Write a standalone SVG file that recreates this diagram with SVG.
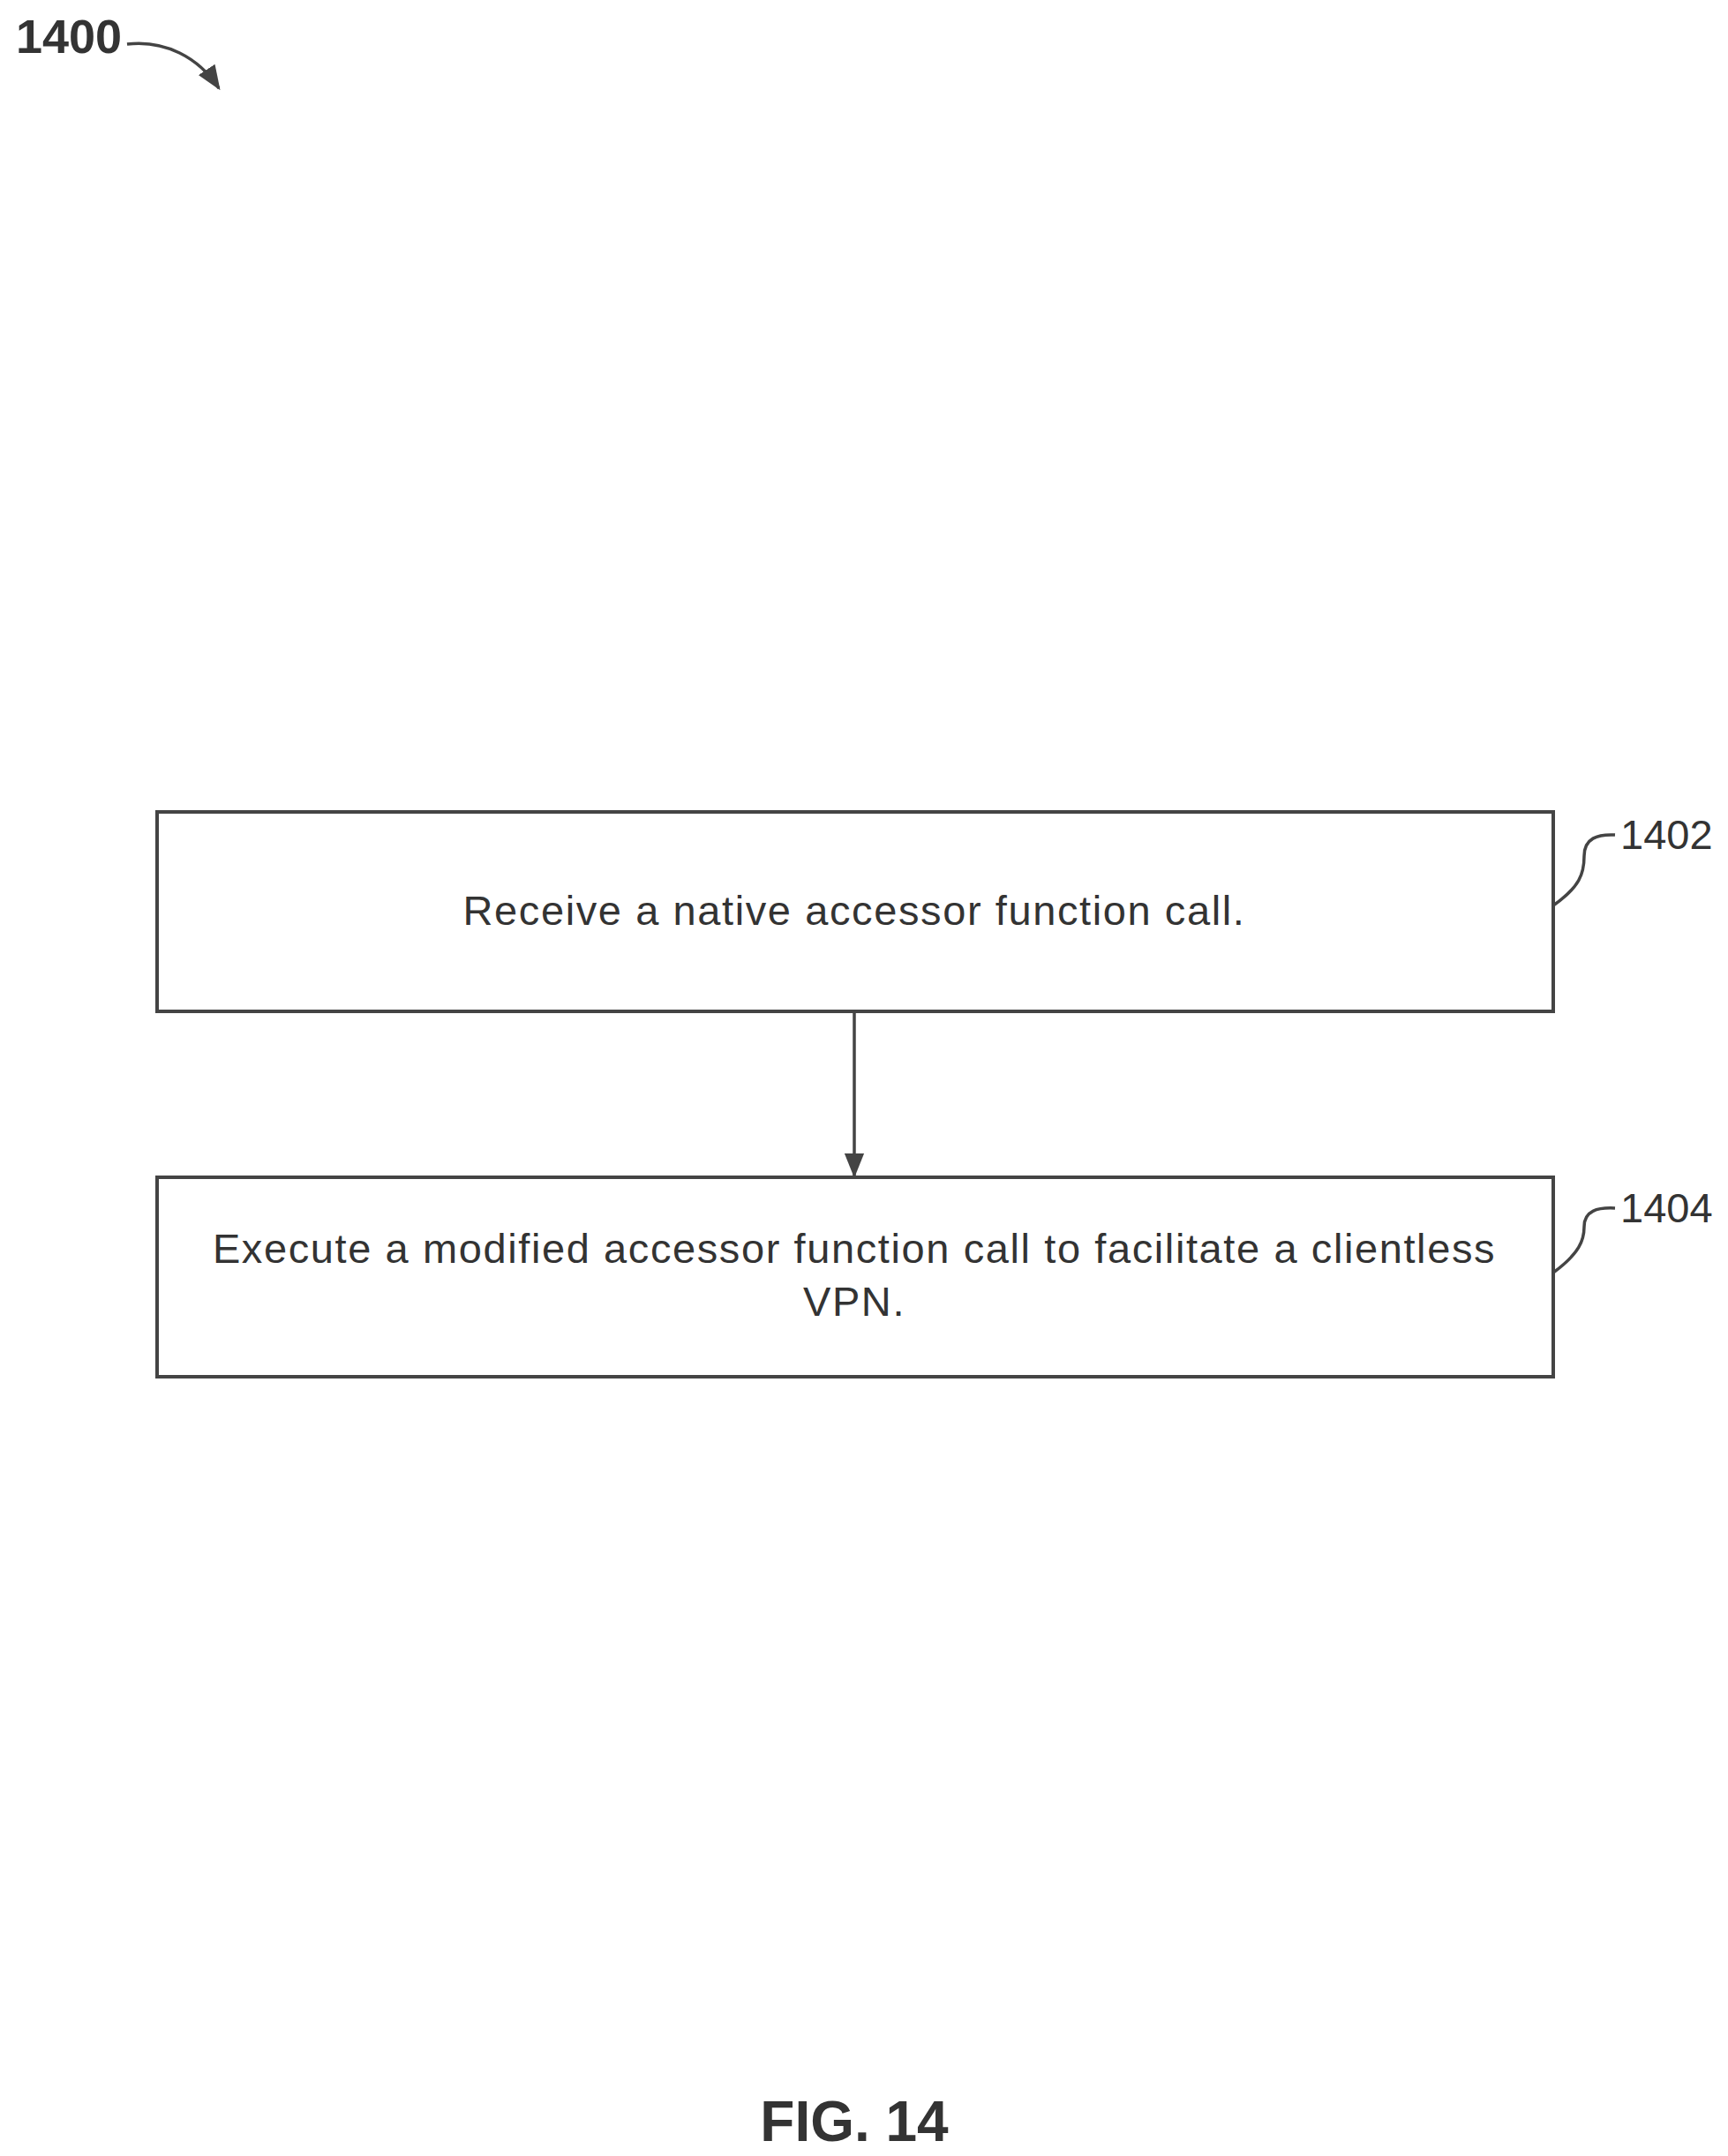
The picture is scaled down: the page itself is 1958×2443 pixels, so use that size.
<svg xmlns="http://www.w3.org/2000/svg" width="1958" height="2443" viewBox="0 0 1958 2443">
<style>
.box{fill:#fff;stroke:#444;stroke-width:4}
.t{font-family:"Liberation Sans",Arial,sans-serif;font-size:47px;letter-spacing:1.6px;fill:#333;text-anchor:middle}
.lbl{font-family:"Liberation Sans",Arial,sans-serif;font-size:47px;fill:#333}
.ln{fill:none;stroke:#444;stroke-width:3.5}
</style>
<defs>
<marker id="ah2" viewBox="0 0 10 10" refX="9" refY="5" markerWidth="28" markerHeight="28" orient="auto" markerUnits="userSpaceOnUse"><path d="M0,1 L10,5 L0,9 Z" fill="#444"/></marker>
</defs>
<rect width="1958" height="2443" fill="#fff"/>
<text x="18" y="60" font-family="Liberation Sans,Arial,sans-serif" font-size="54" font-weight="bold" fill="#333">1400</text>
<path class="ln" d="M144,50 C187,45 225,65 248,100" marker-end="url(#ah2)"/>
<g id="n1402">
<rect class="box" x="178" y="920" width="1582" height="226"/>
<text class="t" x="968" y="1048">Receive a native accessor function call.</text>
<path class="ln" d="M1760,1026 C1790,1005 1795,990 1795,970 C1795,950 1810,945 1830,946"/>
<text class="lbl" x="1836" y="962">1402</text>
</g>
<g id="n1404">
<rect class="box" x="178" y="1334" width="1582" height="226"/>
<text class="t" x="968" y="1431">Execute a modified accessor function call to facilitate a clientless</text>
<text class="t" x="968" y="1491">VPN.</text>
<path class="ln" d="M1760,1442 C1790,1420 1795,1405 1795,1390 C1795,1372 1810,1368 1830,1369"/>
<text class="lbl" x="1836" y="1385">1404</text>
</g>
<g id="connectors">
<line class="ln" x1="968" y1="1146" x2="968" y2="1332" marker-end="url(#ah2)"/>
</g>
<text x="968" y="2426" text-anchor="middle" font-family="Liberation Sans,Arial,sans-serif" font-size="64" font-weight="bold" fill="#333">FIG. 14</text>
</svg>
